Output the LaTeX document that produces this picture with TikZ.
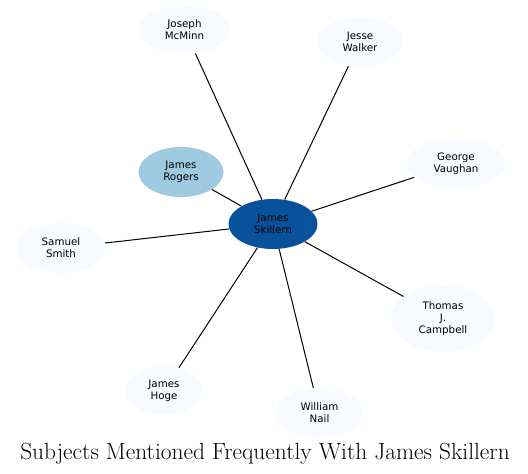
\documentclass[tikz,border=0pt]{standalone}
\usepackage{fontspec}
\newfontfamily\nodefont{DejaVu Sans}
\usetikzlibrary{shapes.geometric}
\definecolor{dark}{HTML}{08519C}
\definecolor{mid}{HTML}{9ECAE1}
\definecolor{pale}{HTML}{F7FBFF}
\begin{document}
\begin{tikzpicture}[x=1pt,y=-1pt,
  person/.style={ellipse, fill=pale, draw=none, inner sep=0pt, align=center,
    font=\nodefont\fontsize{10.3}{12}\selectfont, text=black,
    minimum width=88pt, minimum height=50pt},
  link/.style={draw=black, line width=1pt}]
\useasboundingbox (0,0) rectangle (528,474);
\node[person, fill=dark, minimum width=89pt] (skillern) at (273,224) {James\\Skillern};
\node[person, fill=mid, minimum width=85pt] (rogers) at (181,172) {James\\Rogers};
\node[person, minimum width=91pt, minimum height=49pt] (mcminn) at (184.5,29.5) {Joseph\\McMinn};
\node[person, minimum width=86pt] (walker) at (360,42) {Jesse\\Walker};
\node[person, minimum width=100pt, minimum height=49pt] (vaughan) at (456,163.5) {George\\Vaughan};
\node[person, minimum width=89pt] (smith) at (61,248) {Samuel\\Smith};
\node[person, minimum width=104pt, minimum height=67pt] (campbell) at (443,318.5) {Thomas\\J.\\Campbell};
\node[person, minimum width=78pt, minimum height=49pt] (hoge) at (164,390.5) {James\\Hoge};
\node[person, minimum width=87pt] (nail) at (319.5,413) {William\\Nail};
\foreach \n in {rogers,mcminn,walker,vaughan,smith,campbell,hoge,nail}
  \draw[link] (skillern) -- (\n);
\node[font=\fontsize{23.4}{26}\selectfont, inner sep=0pt, anchor=base] (title) at (265,459) {Subjects Mentioned Frequently With James Skillern};
\end{tikzpicture}
\end{document}
